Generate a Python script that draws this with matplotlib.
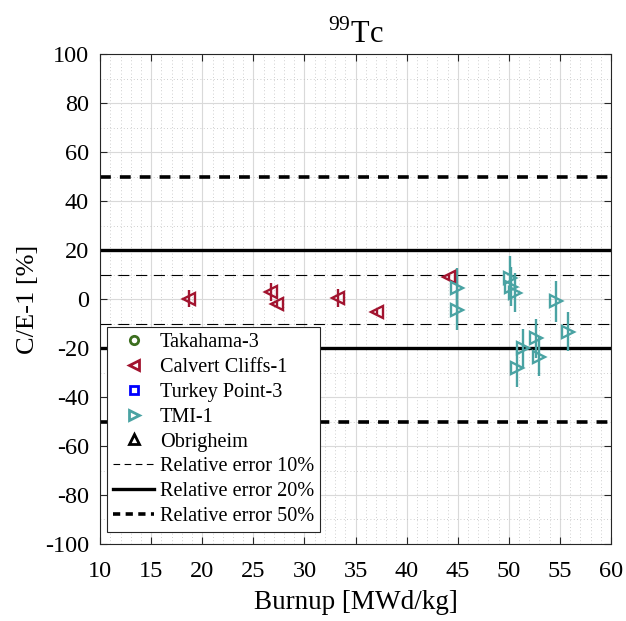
import numpy as np
import matplotlib.pyplot as plt
from matplotlib.ticker import MultipleLocator

plt.rcParams['font.family'] = ['Liberation Serif', 'DejaVu Serif']
plt.rcParams['mathtext.fontset'] = 'custom'
plt.rcParams['mathtext.rm'] = 'Liberation Serif'
plt.rcParams['axes.unicode_minus'] = False

# Calvert Cliffs-1
cc_burnup = [18.7, 26.7, 27.3, 33.3, 37.1, 44.1]
cc_ce = [0.2, 2.8, -2.0, 0.3, -5.2, 9.1]
cc_err = [3.6, 3.8, 0.8, 3.6, 0.8, 0.8]

# TMI-1
tmi_burnup = [44.9, 44.9, 50.1, 50.2, 50.6, 50.8, 51.4, 52.7, 53.0, 54.6, 55.8]
tmi_ce = [4.4, -4.5, 8.5, 5.0, 2.6, -28.3, -20.1, -16.0, -23.5, -1.0, -13.3]
tmi_err = [8.2, 8.2, 9.0, 8.0, 8.0, 7.5, 8.0, 8.0, 8.0, 8.5, 8.0]

green = '#3C6E1F'
red = '#A2142F'
blue = '#0000FF'
teal = '#4AA3A3'

fig = plt.figure(figsize=(6.26, 6.21), dpi=100)
ax = fig.add_axes([0.160, 0.124, 0.816, 0.789])

# reference lines
ax.axhline(10, color='k', lw=0.8, ls=(0, (10, 6)), zorder=1)
ax.axhline(-10, color='k', lw=0.8, ls=(0, (10, 6)), zorder=1)
ax.axhline(20, color='k', lw=2.4, zorder=1)
ax.axhline(-20, color='k', lw=2.4, zorder=1)
ax.axhline(50, color='k', lw=2.6, ls=(0, (3, 2.5)), zorder=1)
ax.axhline(-50, color='k', lw=2.6, ls=(0, (3, 2.5)), zorder=1)

ax.errorbar(cc_burnup, cc_ce, yerr=cc_err, fmt='<', color=red, mfc='none',
            ms=8, mew=1.7, elinewidth=1.7, capsize=0, zorder=3)
ax.errorbar(tmi_burnup, tmi_ce, yerr=tmi_err, fmt='>', color=teal, mfc='none',
            ms=8, mew=1.7, elinewidth=1.7, capsize=0, zorder=3)

# legend handles
h = []
h.append(ax.plot([], [], 'o', color=green, mfc='none', ms=6, mew=2, label='Takahama-3')[0])
h.append(ax.plot([], [], '<', color=red, mfc='none', ms=7, mew=2, label='Calvert Cliffs-1')[0])
h.append(ax.plot([], [], 's', color=blue, mfc='none', ms=6, mew=2, label='Turkey Point-3')[0])
h.append(ax.plot([], [], '>', color=teal, mfc='none', ms=7, mew=2, label='TMI-1')[0])
h.append(ax.plot([], [], '^', color='k', mfc='none', ms=7, mew=2, label='Obrigheim')[0])
h.append(ax.plot([], [], color='k', lw=0.8, ls=(0, (6, 4)), label='Relative error 10%')[0])
h.append(ax.plot([], [], color='k', lw=2.4, label='Relative error 20%')[0])
h.append(ax.plot([], [], color='k', lw=2.6, ls=(0, (2, 1.5)), label='Relative error 50%')[0])

leg = ax.legend(handles=h, loc='lower left', bbox_to_anchor=(0.014, 0.024),
                borderaxespad=0, fontsize=14.6, frameon=True, fancybox=False,
                edgecolor='#262626', framealpha=1, handlelength=2.0,
                handletextpad=0.3, labelspacing=0.28, borderpad=0.3)
leg.get_frame().set_linewidth(0.8)

ax.set_xlim(10, 60)
ax.set_ylim(-100, 100)
ax.xaxis.set_major_locator(MultipleLocator(5))
ax.xaxis.set_minor_locator(MultipleLocator(1))
ax.yaxis.set_major_locator(MultipleLocator(20))
ax.yaxis.set_minor_locator(MultipleLocator(10))
ax.grid(which='major', color='#d9d9d9', lw=0.8)
ax.grid(which='minor', color='#bfbfbf', lw=0.6, ls=(0, (1, 3)))
ax.set_axisbelow(True)
ax.tick_params(which='both', direction='in', top=True, right=True,
               labelsize=17.5, color='#262626')
ax.tick_params(which='minor', length=0)
ax.tick_params(which='major', length=5)
ax.tick_params(axis='x', which='major', pad=12)
ax.tick_params(axis='y', which='major', pad=8)
for s in ax.spines.values():
    s.set_color('#262626')
    s.set_linewidth(0.8)

ax.set_xlabel('Burnup [MWd/kg]', fontsize=19.5, labelpad=6)
ax.set_ylabel('C/E-1 [%]', fontsize=19, labelpad=4)
ax.set_title(r'$^{99}$Tc', fontsize=22, pad=8)

fig.savefig('out.png', dpi=100)
